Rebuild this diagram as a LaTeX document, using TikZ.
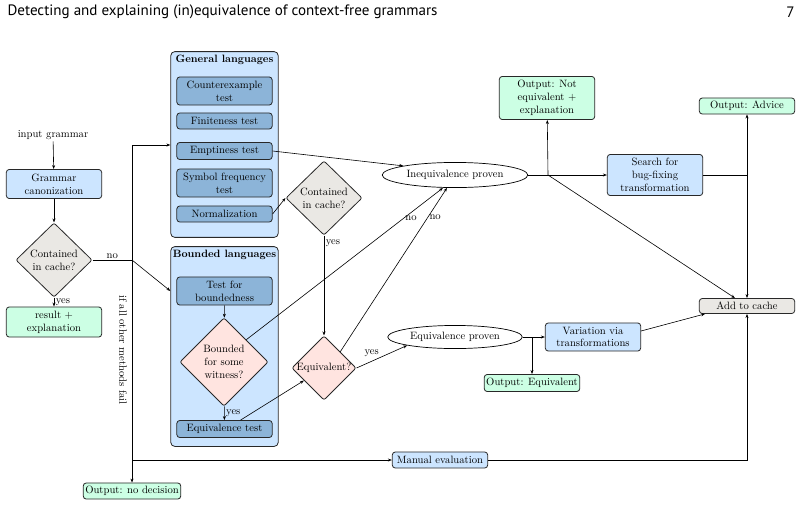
\documentclass[tikz,border=0pt]{standalone}
\usepackage{fontspec}
\usepackage{tikz}
\usetikzlibrary{arrows.meta,positioning,shapes.geometric,calc}
\newfontfamily\headfont{PT Sans}
\newcommand\diagfont{\fontsize{10.6}{12.7}\selectfont}
\definecolor{lightblue}{RGB}{204,229,255}
\definecolor{testblue}{RGB}{140,180,216}
\definecolor{outgreen}{RGB}{204,255,228}
\definecolor{cachegray}{RGB}{234,232,228}
\definecolor{decpink}{RGB}{255,228,224}
\definecolor{edge}{RGB}{40,40,40}

\begin{document}
\begin{tikzpicture}[
    x=0.035cm, y=-0.035cm,
    every node/.style={font=\diagfont},
    proc/.style={rectangle, rounded corners=3pt, draw=edge, line width=0.8pt, fill=lightblue,
                 minimum width=95pt, minimum height=16pt, inner sep=2pt, align=center},
    testbox/.style={proc, fill=testblue},
    outbox/.style={proc, fill=outgreen},
    cachebox/.style={proc, fill=cachegray},
    groupbox/.style={rectangle, rounded corners=4pt, draw=edge, line width=0.8pt, fill=lightblue},
    decision/.style={diamond, draw=edge, line width=0.8pt, rounded corners=2pt, inner sep=0pt, align=center},
    proven/.style={ellipse, draw=black, line width=0.7pt, inner sep=0pt},
    lbl/.style={inner sep=1.5pt},
    arr/.style={-{Stealth[length=4pt,width=3pt]}, line width=0.6pt}]
\useasboundingbox (0,0) rectangle (802,507);
% page header
\node[anchor=west, font=\headfont\fontsize{15}{17}\selectfont] (runhead) at (4,12)
    {Detecting and explaining (in)equivalence of context-free grammars};
\node[anchor=east, font=\headfont\fontsize{15}{17}\selectfont] (pageno) at (798,12) {7};

% input side
\node[lbl] (input) at (53,135) {input grammar};
\node[proc, minimum height=29pt] (canon) at (54,184) {Grammar\\canonization};
\node[decision, fill=cachegray, minimum width=76pt, minimum height=74pt] (cache1) at (54,260) {Contained\\in cache?};
\node[outbox, minimum height=30pt] (result) at (54,322) {result +\\explanation};
\node[outbox] (nodec) at (132,491) {Output: no decision};
\node[lbl, rotate=-90] (fallback) at (123,350) {if all other methods fail};

% general languages
\node[groupbox, minimum width=107pt, minimum height=185pt] (general) at (224.5,144.5) {};
\node[font=\diagfont\bfseries, anchor=north] (gtitle) at (general.north) {General languages};
\node[testbox, minimum height=28pt] (cex) at (224.5,91) {Counterexample\\test};
\node[testbox] (fin) at (224.5,121) {Finiteness test};
\node[testbox, minimum height=17pt] (empty) at (224.5,151) {Emptiness test};
\node[testbox, minimum height=28pt] (symfreq) at (224.5,183) {Symbol frequency\\test};
\node[testbox] (norm) at (224.5,214) {Normalization};

% bounded languages
\node[groupbox, minimum width=107pt, minimum height=199pt] (bounded) at (224.5,346.5) {};
\node[font=\diagfont\bfseries, anchor=north] (btitle) at (bounded.north) {Bounded languages};
\node[testbox, minimum height=28pt] (bound) at (224.5,291) {Test for\\boundedness};
\node[decision, fill=decpink, minimum width=88pt, minimum height=88pt] (witness) at (224,362) {Bounded\\for some\\witness?};
\node[testbox, minimum height=17pt] (eqtest) at (224.5,429) {Equivalence test};

% middle
\node[decision, fill=cachegray, minimum width=76pt, minimum height=74pt] (cache2) at (324,198) {Contained\\in cache?};
\node[decision, fill=decpink, minimum width=64pt, minimum height=64pt] (equiv) at (324,368) {Equivalent?};
\node[proven, minimum width=145pt, minimum height=25pt] (ineq) at (455,175) {Inequivalence proven};
\node[proven, minimum width=134pt, minimum height=23pt] (eqprov) at (455,337) {Equivalence proven};
\node[proc] (manual) at (440,460) {Manual evaluation};

% right side
\node[outbox, minimum height=43pt] (notequiv) at (547,98) {Output: Not\\equivalent +\\explanation};
\node[proc, minimum height=41pt] (search) at (655,175) {Search for\\bug-fixing\\transformation};
\node[outbox] (advice) at (747,106) {Output: Advice};
\node[cachebox, minimum height=15pt] (addc) at (747,306) {Add to cache};
\node[proc, minimum height=28pt] (var) at (593,337) {Variation via\\transformations};
\node[outbox, minimum height=17pt] (outeq) at (532,383) {Output: Equivalent};

\coordinate (split1) at (132,260);
\coordinate (gtop) at (132,145);
\coordinate (split2) at (548,175);
\coordinate (split3) at (747,175);
\coordinate (split4) at (532,337);

% connectors
\draw[arr] (input) -- (canon);
\draw[arr] (canon) -- (cache1);
\draw[arr] (cache1) -- node[lbl, right] {yes} (result);
\draw[line width=0.6pt] (cache1.east) -- node[lbl, above] {no} (split1);
\draw[arr] (split1) -- (bounded.west |- bound);
\draw[arr] (gtop) -- (gtop -| general.west);
\draw[arr] (gtop) -- (nodec);
\draw[arr] (gtop |- manual) -- (manual);
\draw[arr] (manual) -| (addc);

\draw[arr] (bound) -- (witness);
\draw[arr] (witness) -- node[lbl, right] {yes} (eqtest);
\draw[arr] ([xshift=16pt]eqtest.north) -- (equiv);
\draw[arr] (witness.north east) -- node[lbl, pos=0.8, right] {no} ([xshift=-12pt]ineq.south);
\draw[arr] (equiv.north east) -- node[lbl, pos=0.82, right] {no} ([xshift=-8pt]ineq.south);
\draw[arr] (equiv.east) -- node[lbl, pos=0.3, above=3pt] {yes} (eqprov.south west);
\draw[arr] (norm.east) -- (cache2.west);
\draw[arr] (cache2) -- node[lbl, pos=0.08, right] {yes} (equiv);
\draw[arr] (empty.east) -- (ineq.north west);

\draw[line width=0.6pt] (ineq.east) -- (split2);
\draw[arr] (split2) -- (notequiv);
\draw[arr] (split2) -- (search);
\draw[arr] (split2) -- ([xshift=-12pt]addc.north);
\draw[line width=0.6pt] (search.east) -- (split3);
\draw[arr] (split3) -- (advice);
\draw[arr] (split3) -- (addc);

\draw[line width=0.6pt] (eqprov.east) -- (split4);
\draw[arr] (split4) -- (var);
\draw[arr] (split4) -- (outeq);
\draw[arr] ([yshift=6pt]var.east) -- ([xshift=6pt]addc.south west);
\end{tikzpicture}
\end{document}
